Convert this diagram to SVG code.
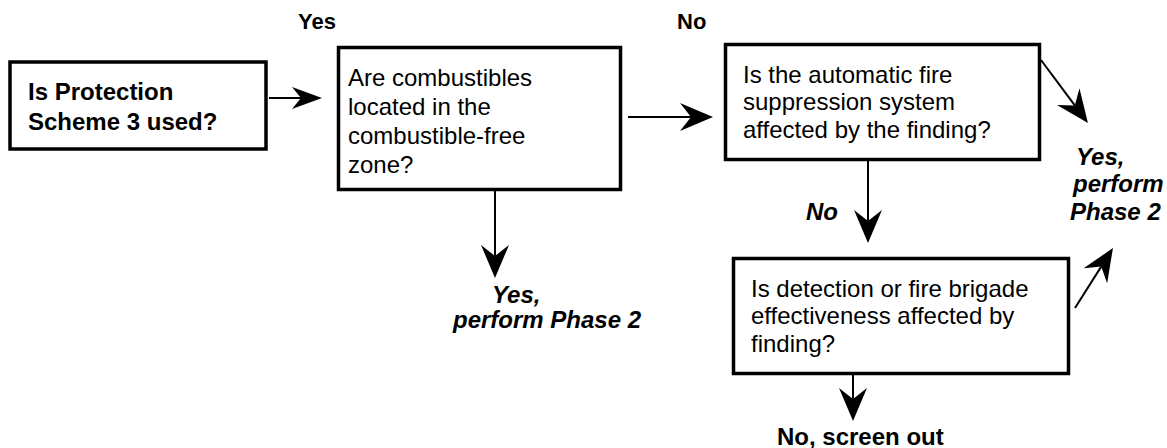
<svg xmlns="http://www.w3.org/2000/svg" width="1167" height="448" viewBox="0 0 1167 448">
  <style>
    .box { fill: #ffffff; stroke: #000000; stroke-width: 3.5; }
    .link { fill: none; stroke: #000000; stroke-width: 2; }
    .t { font-family: "Liberation Sans", Arial, sans-serif; font-size: 24px; fill: #000000; }
    .b { font-weight: bold; }
    .bi { font-weight: bold; font-style: italic; }
  </style>
  <defs>
    <!-- notched arrowheads, tip at the far end -->
    <marker id="head" markerUnits="userSpaceOnUse" viewBox="0 -14 33 28" refX="11" refY="0" markerWidth="33" markerHeight="28" orient="auto">
      <path d="M0,-14 L33,0 L0,14 L11,0 Z" fill="#000000"/>
    </marker>
    <marker id="headSmall" markerUnits="userSpaceOnUse" viewBox="0 -11 30 22" refX="9" refY="0" markerWidth="30" markerHeight="22" orient="auto">
      <path d="M0,-11 L30,0 L0,11 L9,0 Z" fill="#000000"/>
    </marker>
  </defs>

  <rect width="1167" height="448" fill="#ffffff"/>

  <!-- connectors -->
  <g id="connectors">
    <path class="link" d="M269,98 L301,98" marker-end="url(#headSmall)"/>
    <path class="link" d="M628,117 L691,117" marker-end="url(#head)"/>
    <path class="link" d="M495,191 L495,256" marker-end="url(#head)"/>
    <path class="link" d="M868,161 L868,221" marker-end="url(#head)"/>
    <path class="link" d="M853,375 L853,399" marker-end="url(#head)"/>
    <path class="link" d="M1041,60 L1074.8,105.4" marker-end="url(#head)"/>
    <path class="link" d="M1075,308 L1101.2,266.6" marker-end="url(#head)"/>
  </g>

  <!-- branch labels -->
  <g id="labels">
    <text class="t b" x="298" y="29" style="font-size:22px">Yes</text>
    <text class="t b" x="677" y="29" style="font-size:22px">No</text>
    <text class="t bi" x="806" y="220">No</text>
    <text class="t bi">
      <tspan x="492" y="303">Yes,</tspan>
      <tspan x="453" y="328">perform Phase 2</tspan>
    </text>
    <text class="t bi">
      <tspan x="1076" y="165">Yes,</tspan>
      <tspan x="1073" y="192">perform</tspan>
      <tspan x="1070" y="220">Phase 2</tspan>
    </text>
    <text class="t b" x="777" y="445">No, screen out</text>
  </g>

  <!-- decision boxes -->
  <g id="scheme3">
    <rect class="box" x="10" y="62" width="256" height="87"/>
    <text class="t b">
      <tspan x="28" y="100">Is Protection</tspan>
      <tspan x="28" y="130">Scheme 3 used?</tspan>
    </text>
  </g>

  <g id="combustibles">
    <rect class="box" x="338.5" y="47.5" width="282" height="142"/>
    <text class="t">
      <tspan x="348" y="86">Are combustibles</tspan>
      <tspan x="348" y="115">located in the</tspan>
      <tspan x="348" y="144">combustible-free</tspan>
      <tspan x="348" y="173">zone?</tspan>
    </text>
  </g>

  <g id="suppression">
    <rect class="box" x="725.5" y="44.5" width="314" height="115"/>
    <text class="t">
      <tspan x="743" y="83">Is the automatic fire</tspan>
      <tspan x="743" y="110">suppression system</tspan>
      <tspan x="743" y="138">affected by the finding?</tspan>
    </text>
  </g>

  <g id="detection">
    <rect class="box" x="733.5" y="258.5" width="335" height="115"/>
    <text class="t">
      <tspan x="751" y="297">Is detection or fire brigade</tspan>
      <tspan x="751" y="324">effectiveness affected by</tspan>
      <tspan x="751" y="352">finding?</tspan>
    </text>
  </g>
</svg>
